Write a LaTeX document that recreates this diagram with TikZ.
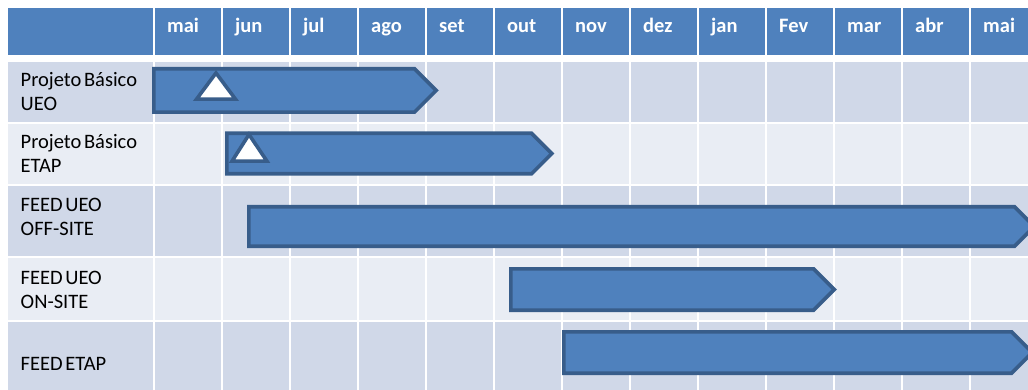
\documentclass[tikz,border=0pt]{standalone}
\usepackage{fontspec}
\setmainfont{Carlito}
\definecolor{hdr}{HTML}{4F81BD}
\definecolor{rowA}{HTML}{D0D8E8}
\definecolor{rowB}{HTML}{E9EDF4}
\definecolor{barfill}{HTML}{4F81BD}
\definecolor{barline}{HTML}{385D8A}

% label font with a narrow word space
\newcommand\labelfont{\fontsize{20.5}{24}\selectfont\spaceskip=0.13em\relax}

% Gantt bar with an arrow-shaped right end: start x, shoulder x, top y, bottom y
\newcommand\ganttbar[4]{%
  \draw[taskbar] (#1,#3) -- (#2,#3) -- ({#2+(#4-#3)/2},{(#3+#4)/2})
    -- (#2,#4) -- (#1,#4) -- cycle;}

\begin{document}
\begin{tikzpicture}[x=1pt,y=-1pt,
  taskbar/.style={fill=barfill, draw=barline, line width=3.6pt},
  milestone/.style={fill=white, draw=barline, line width=3.6pt},
  hdrtxt/.style={text=white, font=\fontsize{20.5}{24}\selectfont\bfseries,
    anchor=base west, inner sep=0pt},
  lbl/.style={text=black, font=\labelfont,
    anchor=base west, inner sep=0pt}]
\useasboundingbox (0,0) rectangle (1028,390);
\clip (0,0) rectangle (1028,390);
\fill[white] (0,0) rectangle (1028,390);

% header band and row bands
\fill[hdr]  (8,8)   rectangle (1040,55);
\fill[rowA] (8,62)  rectangle (1040,122);
\fill[rowB] (8,124) rectangle (1040,184);
\fill[rowA] (8,186) rectangle (1040,256);
\fill[rowB] (8,258) rectangle (1040,320);
\fill[rowA] (8,322) rectangle (1040,400);

% white column separators
\foreach \k in {0,...,13}
  \fill[white] ({153+68*\k},8) rectangle ({155+68*\k},400);

% month headings
\foreach \m [count=\i from 0] in {mai,jun,jul,ago,set,out,nov,dez,jan,Fev,mar,abr,mai}
  \node[hdrtxt] (m\i) at ({167+68*\i},33) {\m};

% task labels
\node[lbl] (t1) at (20.5,87)  {\begin{tabular}[t]{@{}l@{}}Projeto Básico\\UEO\end{tabular}};
\node[lbl] (t2) at (20.5,149) {\begin{tabular}[t]{@{}l@{}}Projeto Básico\\ETAP\end{tabular}};
\node[lbl] (t3) at (20.5,212) {\begin{tabular}[t]{@{}l@{}}FEED UEO\\OFF-SITE\end{tabular}};
\node[lbl] (t4) at (20.5,284) {\begin{tabular}[t]{@{}l@{}}FEED UEO\\ON-SITE\end{tabular}};
\node[lbl] (t5) at (20.5,370) {FEED ETAP};

% bars
\ganttbar{153.8}{414.5}{68.8}{112.2}
\ganttbar{226.8}{531.5}{133.3}{173.8}
\ganttbar{248.8}{1014.5}{206.8}{246.2}
\ganttbar{510.8}{813.5}{268.8}{310.2}
\ganttbar{563.8}{1011.5}{331.8}{373.2}

% milestones
\draw[milestone] (216,73) -- (235.5,99.2) -- (196.5,99.2) -- cycle;
\draw[milestone] (249,134.5) -- (267,161.2) -- (232,161.2) -- cycle;
\end{tikzpicture}
\end{document}
